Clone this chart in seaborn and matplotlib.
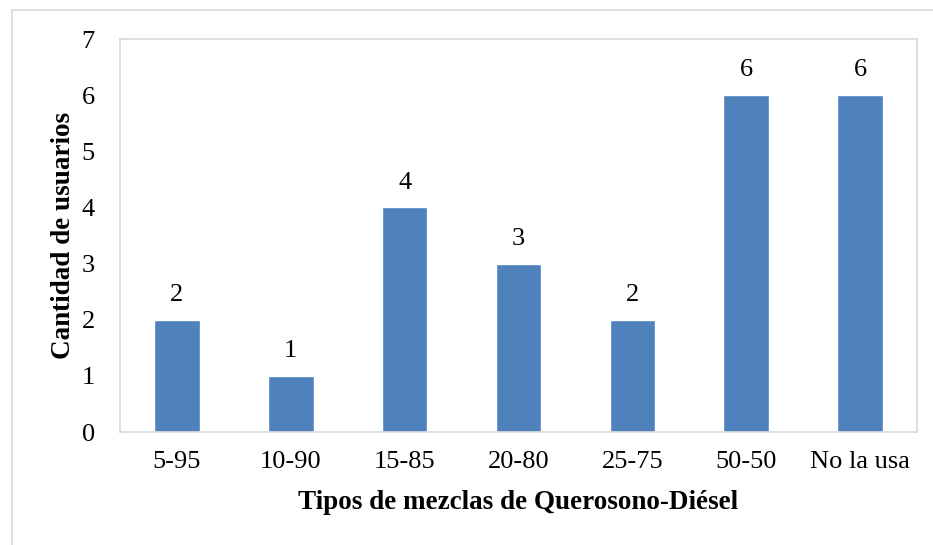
import matplotlib
matplotlib.use("Agg")
import matplotlib.pyplot as plt
import seaborn as sns
import pandas as pd
from matplotlib.patches import Rectangle

categorias = ["5-95", "10-90", "15-85", "20-80", "25-75", "50-50", "No la usa"]
usuarios = [2, 1, 4, 3, 2, 6, 6]

df = pd.DataFrame({"mezcla": categorias, "usuarios": usuarios})

sns.set_style("white")
plt.rcParams["font.family"] = ["Liberation Serif", "DejaVu Serif"]
plt.rcParams["text.color"] = "black"
plt.rcParams["axes.labelcolor"] = "black"

fig = plt.figure(figsize=(9.33, 5.45), dpi=100)
ax = fig.add_axes([0.1286, 0.2073, 0.8542, 0.7211])

sns.barplot(data=df, x="mezcla", y="usuarios", color="#4F81BD",
            saturation=1, width=0.4, ax=ax)

ax.set_ylim(0, 7)
ax.set_yticks(range(0, 8))
ax.set_xlim(-0.5, len(categorias) - 0.5)

for i, v in enumerate(usuarios):
    ax.annotate(str(v), (i, v), xytext=(0, 10), textcoords="offset points",
                ha="center", va="bottom", fontsize=19, color="black")

ax.tick_params(axis="both", length=0, labelsize=19, colors="black")
ax.tick_params(axis="y", pad=18)
ax.tick_params(axis="x", pad=14)

for s in ax.spines.values():
    s.set_visible(True)
    s.set_color("#d9d9d9")
    s.set_linewidth(1.2)

ax.set_xlabel("Tipos de mezclas de Querosono-Diésel", fontsize=19.5,
              fontweight="bold", labelpad=12, color="black")
ax.set_ylabel("Cantidad de usuarios", fontsize=19.5, fontweight="bold",
              labelpad=4, color="black")

# light frame around the whole chart
fig.patches.append(Rectangle((12 / 933, -0.05), 1.1, 1.05 - 10 / 545,
                             transform=fig.transFigure, fill=False,
                             edgecolor="#d9d9d9", linewidth=1.2))

fig.savefig("out.png", dpi=100)
